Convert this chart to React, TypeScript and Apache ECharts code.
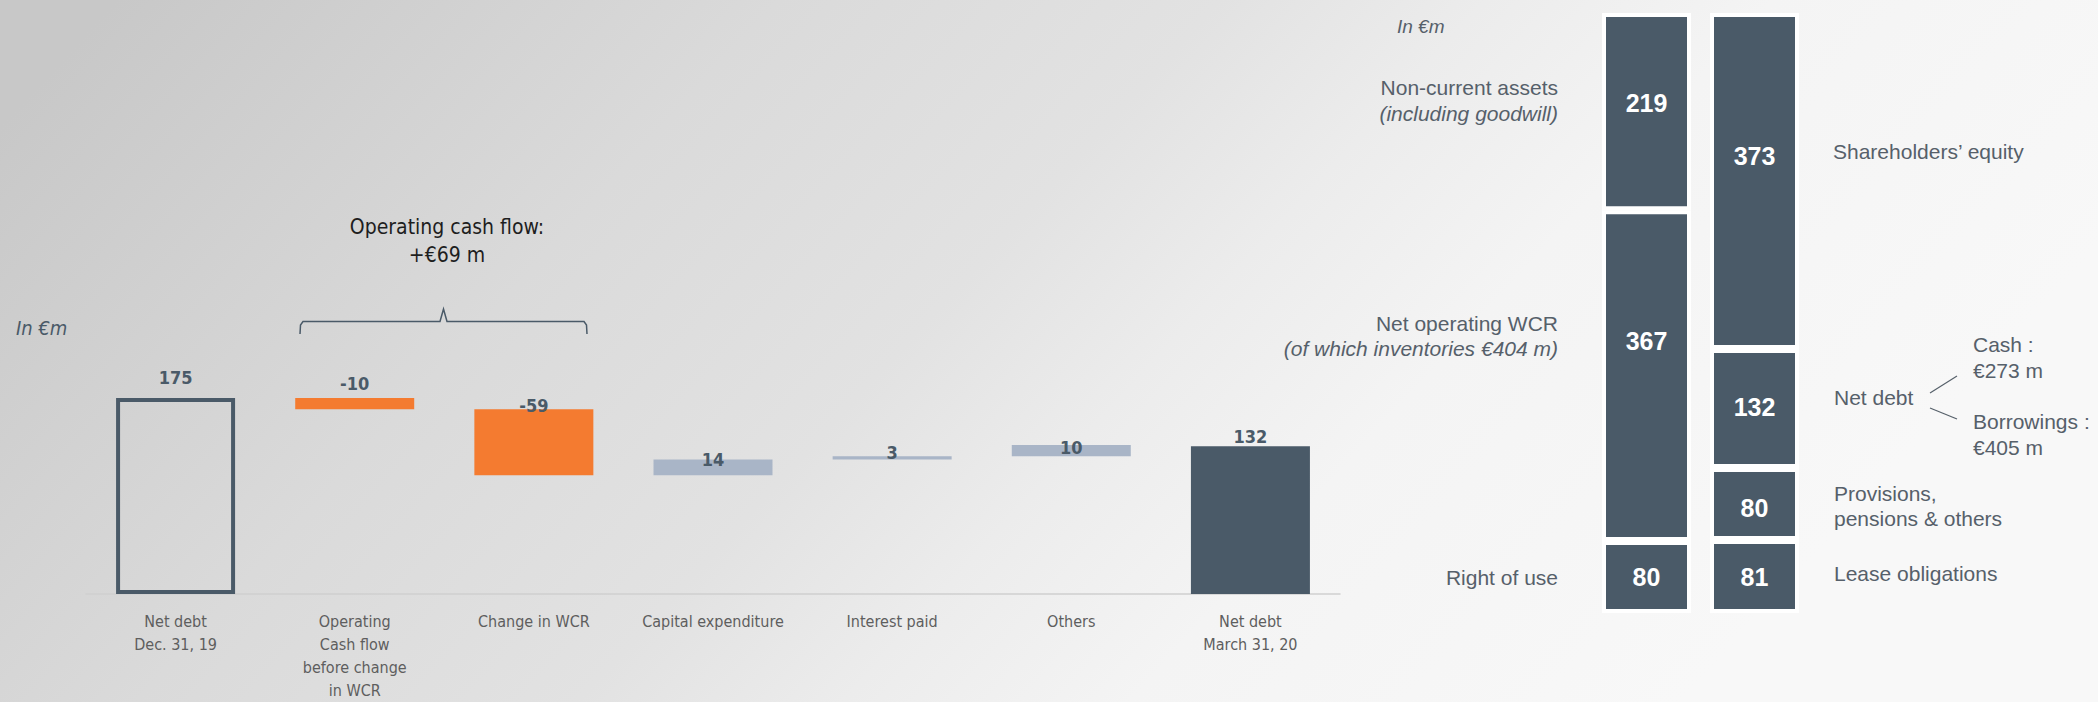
import React, { useEffect, useRef } from 'react';
import * as echarts from 'echarts';

// ---------- data ----------
const flowCategories = [
  'Net debt\nDec. 31, 19',
  'Operating\nCash flow\nbefore change\nin WCR',
  'Change in WCR',
  'Capital expenditure',
  'Interest paid',
  'Others',
  'Net debt\nMarch 31, 20',
];
const flowValues = [175, -10, -59, 14, 3, 10, 132];
const flowKinds = ['start', 'down', 'down', 'up', 'up', 'up', 'end'];

const bsCategories = ['Assets', 'Liabilities'];
const bsLevel1 = [80, 81]; // Right of use | Lease obligations
const bsLevel2 = [367, 80]; // Net operating WCR | Provisions, pensions & others
const bsLevel3 = [219, 132]; // Non-current assets | Net debt
const bsLevel4 = [null, 373]; // – | Shareholders' equity

// ---------- styles ----------
const condensed = '"Liberation Sans Narrow", "DejaVu Sans Condensed", "Open Sans", sans-serif';
const arial = '"Liberation Sans", Arial, sans-serif';
const slate = '#4a5a68';
const orange = '#f47b30';
const lightBar = '#a9b5c7';
const txt = '#56606a';
const flowLabelLift = [12, 6, -5, -9, -5, -11, 1];
const bsLabelShift = {
  l1: [0, 0],
  l2: [-35, 4],
  l3: [-9, -1],
  l4: [0, -25],
};

export default function App() {
  const ref = useRef<HTMLDivElement>(null);
  useEffect(() => {
    if (!ref.current) return;
    const chart = echarts.init(ref.current, undefined, { renderer: 'svg' });

    // waterfall base
    let level = 0;
    const baseData = flowValues.map((v, i) => {
      const k = flowKinds[i];
      if (k === 'start') { level = v; return 0; }
      if (k === 'end') return 0;
      if (v < 0) { level += v; return level; }
      const b = level; level += v; return b;
    });
    const visData = flowValues.map((v, i) => {
      const k = flowKinds[i];
      let itemStyle: any;
      if (k === 'start') itemStyle = { color: 'rgba(0,0,0,0)', borderColor: slate, borderWidth: 4 };
      else if (k === 'end') itemStyle = { color: slate };
      else if (k === 'down') itemStyle = { color: orange };
      else itemStyle = { color: lightBar };
      return {
        value: Math.abs(v),
        itemStyle,
        label: { distance: flowLabelLift[i] },
      };
    });

    const bsMax = Math.max(
      (bsLevel1[0] || 0) + (bsLevel2[0] || 0) + (bsLevel3[0] || 0) + (bsLevel4[0] || 0),
      (bsLevel1[1] || 0) + (bsLevel2[1] || 0) + (bsLevel3[1] || 0) + (bsLevel4[1] || 0)
    );
    const bsSeries = (arr: (number | null)[], shift: number[]) => ({
      type: 'bar',
      stack: 'bs',
      xAxisIndex: 1,
      yAxisIndex: 1,
      barWidth: 89,
      itemStyle: { color: slate, borderColor: '#ffffff', borderWidth: 4 },
      label: {
        show: true,
        position: 'inside',
        color: '#ffffff',
        fontSize: 25,
        fontWeight: 'bold',
        fontFamily: arial,
      },
      data: arr.map((v, i) => (v == null ? null : { value: v, label: { offset: [0, shift[i]] } })),
    });

    const t = (text: string, x: number, y: number, opts: any = {}) => ({
      type: 'text',
      x,
      y,
      z: 20,
      style: {
        text,
        fill: opts.fill || txt,
        font: `${opts.italic ? 'italic ' : ''}${opts.weight || 'normal'} ${opts.size || 21}px ${opts.family || arial}`,
        textAlign: opts.align || 'left',
        textVerticalAlign: 'middle',
      },
    });

    const option: any = {
      animation: false,
      grid: [
        { left: 86, width: 1254, top: 370, height: 229 },
        { left: 1592.5, width: 216, top: 13, height: 600 },
      ],
      xAxis: [
        {
          type: 'category',
          gridIndex: 0,
          data: flowCategories,
          axisTick: { show: false },
          axisLine: { lineStyle: { color: '#cfcfcf', width: 1.5 } },
          axisLabel: {
            interval: 0,
            color: '#5e5e5e',
            fontSize: 16,
            lineHeight: 23,
            margin: 16,
            fontFamily: condensed,
          },
        },
        { type: 'category', gridIndex: 1, data: bsCategories, show: false },
      ],
      yAxis: [
        { type: 'value', gridIndex: 0, min: 0, max: 200, show: false },
        { type: 'value', gridIndex: 1, min: 0, max: bsMax, show: false },
      ],
      series: [
        {
          type: 'bar',
          stack: 'wf',
          barWidth: 119,
          silent: true,
          itemStyle: { color: 'rgba(0,0,0,0)' },
          data: baseData,
        },
        {
          type: 'bar',
          stack: 'wf',
          barWidth: 119,
          label: {
            show: true,
            position: 'top',
            color: slate,
            fontSize: 18,
            fontWeight: 'bold',
            fontFamily: condensed,
            formatter: (p: any) => String(flowValues[p.dataIndex]),
          },
          data: visData,
        },
        bsSeries(bsLevel1, bsLabelShift.l1),
        bsSeries(bsLevel2, bsLabelShift.l2),
        bsSeries(bsLevel3, bsLabelShift.l3),
        bsSeries(bsLevel4, bsLabelShift.l4),
      ],
      graphic: [
        {
          type: 'rect',
          z: -100,
          silent: true,
          shape: { x: 0, y: 0, width: 2098, height: 702 },
          style: {
            fill: new echarts.graphic.LinearGradient(300, -200, 1500, 900, [
              { offset: 0, color: '#c8c8c8' },
              { offset: 0.3, color: '#dadada' },
              { offset: 0.5, color: '#e2e2e2' },
              { offset: 0.62, color: '#ececec' },
              { offset: 0.75, color: '#f4f4f4' },
              { offset: 1, color: '#f8f8f8' },
            ], true),
          },
        },
        // left chart annotations
        t('In €m', 16, 328, { italic: true, size: 20, family: condensed, fill: slate }),
        t('Operating cash flow:', 447, 227, { size: 21, family: condensed, fill: '#1e1e1e', align: 'center' }),
        t('+€69 m', 447, 255, { size: 21, family: condensed, fill: '#1e1e1e', align: 'center' }),
        {
          type: 'polyline',
          z: 20,
          shape: {
            points: [
              [300, 334], [300.5, 325], [303, 321.5], [440, 321.5], [443.5, 309],
              [447, 321.5], [584, 321.5], [586.5, 325], [587, 334],
            ],
          },
          style: { stroke: slate, lineWidth: 1.5, fill: null },
        },
        // right chart annotations
        t('In €m', 1397, 26, { italic: true, size: 19 }),
        t('Non-current assets', 1558, 87, { align: 'right' }),
        t('(including goodwill)', 1558, 113, { align: 'right', italic: true }),
        t('Net operating WCR', 1558, 323, { align: 'right' }),
        t('(of which inventories €404 m)', 1558, 348, { align: 'right', italic: true }),
        t('Right of use', 1558, 577, { align: 'right' }),
        t('Shareholders’ equity', 1833, 151),
        t('Net debt', 1834, 397),
        t('Cash :', 1973, 344),
        t('€273 m', 1973, 370),
        t('Borrowings :', 1973, 421),
        t('€405 m', 1973, 447),
        t('Provisions,', 1834, 493),
        t('pensions & others', 1834, 518),
        t('Lease obligations', 1834, 573),
        {
          type: 'line',
          z: 20,
          shape: { x1: 1930, y1: 393, x2: 1957, y2: 376 },
          style: { stroke: txt, lineWidth: 1.2 },
        },
        {
          type: 'line',
          z: 20,
          shape: { x1: 1930, y1: 408, x2: 1957, y2: 419 },
          style: { stroke: txt, lineWidth: 1.2 },
        },
      ],
    };
    chart.setOption(option);
    return () => chart.dispose();
  }, []);

  return (
    <div
      ref={ref}
      style={{ position: 'absolute', left: 0, top: 0, width: 2098, height: 702 }}
    />
  );
}
